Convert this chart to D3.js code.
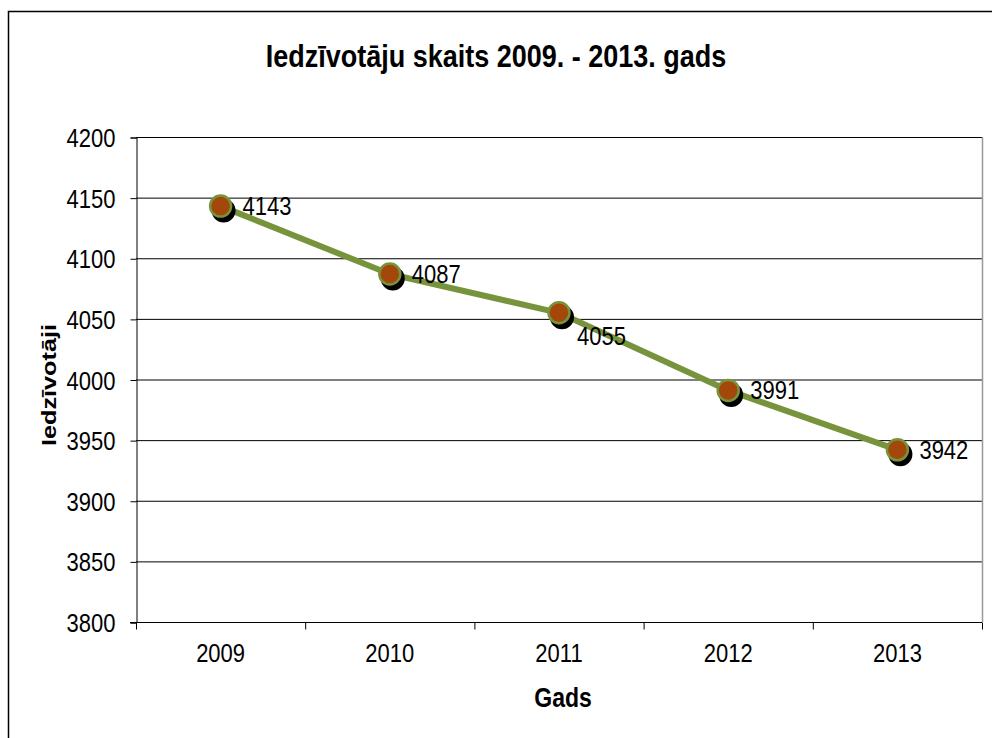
<!DOCTYPE html>
<html><head><meta charset="utf-8">
<script src="https://cdn.jsdelivr.net/npm/d3@7"></script>
<style>body{margin:0;background:#fff;font-family:"Liberation Sans",Arial,sans-serif}</style>
</head><body>
<svg id="c" width="992" height="738"></svg>
<script>
const years = ["2009","2010","2011","2012","2013"];
const population = [4143, 4087, 4055, 3991, 3942];
const yTicks = [3800,3850,3900,3950,4000,4050,4100,4150,4200];
const labelPos = ["right","right","below","right","right"];

const FONT = "Liberation Sans, Arial, sans-serif";
const SY = 1.17; // vertical stretch of text in the reference

const svg = d3.select("#c").attr("font-family",FONT);
svg.append("rect").attr("x",8.5).attr("y",11.5).attr("width",1000).attr("height",1000)
  .attr("fill","#fff").attr("stroke","#000").attr("stroke-width",1.5);

const L=136, R=982, T=137, B=622;
const x = d3.scaleBand().domain(years).range([L,R]);
const y = d3.scaleLinear().domain([3800,4200]).range([B,T]);

function stretchedText(g, tx, ty, str, size, weight, anchor){
  return g.append("text").attr("transform",`translate(${tx},${ty}) scale(1,${SY})`)
    .attr("text-anchor",anchor||"start").attr("font-size",size)
    .attr("font-weight",weight||"normal").attr("fill","#000").text(str);
}

// gridlines
svg.append("g").selectAll("line").data(yTicks.filter(d=>d>3800)).join("line")
  .attr("x1",L).attr("x2",R).attr("y1",d=>y(d)+0.5).attr("y2",d=>y(d)+0.5)
  .attr("stroke","#000").attr("stroke-width",1);
// right border of plot
svg.append("line").attr("x1",R+0.5).attr("x2",R+0.5).attr("y1",T).attr("y2",B)
  .attr("stroke","#999").attr("stroke-width",1.5);

const yAxis = d3.axisLeft(y).tickValues(yTicks).tickSize(6).tickPadding(15).tickFormat(d3.format("d"));
const gy = svg.append("g").attr("transform",`translate(${L+0.5},0.5)`).call(yAxis);
gy.attr("font-family",FONT);
gy.select(".domain").attr("stroke","#000");
gy.selectAll(".tick line").attr("stroke","#000");
gy.selectAll(".tick text").attr("font-size",22).attr("fill","#000")
  .attr("dy","0.35em").attr("transform",`scale(1,${SY})`);

const xAxis = d3.axisBottom(x).tickSize(0).tickPadding(0);
const gx = svg.append("g").attr("transform",`translate(0,${B+0.5})`).call(xAxis);
gx.attr("font-family",FONT);
gx.select(".domain").attr("stroke","#000").attr("d",`M${L-6},0H${R}`);
gx.selectAll(".tick text").attr("font-size",22).attr("fill","#000")
  .attr("dy",0).attr("y",40/SY).attr("transform",`scale(1,${SY})`);
// category separator ticks
gx.append("g").selectAll("line").data(d3.range(years.length+1)).join("line")
  .attr("x1",i=>L+i*x.step()+0.5).attr("x2",i=>L+i*x.step()+0.5).attr("y1",0).attr("y2",7)
  .attr("stroke","#000");

const cx = d=>x(d)+x.bandwidth()/2;

// line
svg.append("path").datum(years.map((yr,i)=>[cx(yr),y(population[i])]))
  .attr("d",d3.line()).attr("fill","none").attr("stroke","#77933c").attr("stroke-width",6)
  .attr("stroke-linejoin","round");

// shadow markers
svg.append("g").selectAll("circle").data(years).join("circle")
  .attr("cx",d=>cx(d)+3).attr("cy",(d,i)=>y(population[i])+4.5).attr("r",12).attr("fill","#000");
// markers
svg.append("g").selectAll("circle").data(years).join("circle")
  .attr("cx",d=>cx(d)).attr("cy",(d,i)=>y(population[i])).attr("r",10.5)
  .attr("fill","#a4470b").attr("stroke","#77933c").attr("stroke-width",2.5);

// data labels
const gl = svg.append("g");
years.forEach((yr,i)=>{
  const px = cx(yr), py = y(population[i]);
  if (labelPos[i]==="below") stretchedText(gl, px+18, py+32, population[i], 22);
  else stretchedText(gl, px+22, py+9, population[i], 22);
});

stretchedText(svg, 496, 67, "Iedzīvotāju skaits 2009. - 2013. gads", 27, "bold", "middle");
stretchedText(svg, 563, 707, "Gads", 23, "bold", "middle");
svg.append("text").attr("transform","translate(56,385) rotate(-90) scale(1.2,1)")
  .attr("text-anchor","middle").attr("font-size",21).attr("font-weight","bold")
  .attr("fill","#000").text("Iedzīvotāji");
</script>
</body></html>
